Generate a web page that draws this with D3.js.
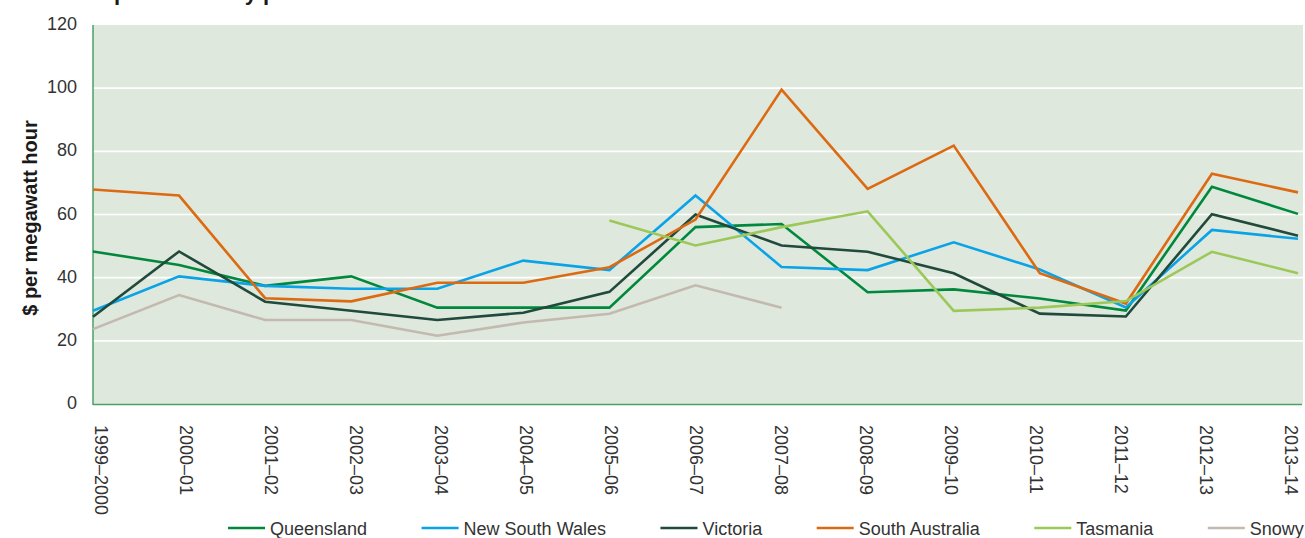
<!DOCTYPE html>
<html>
<head>
<meta charset="utf-8">
<script src="https://cdn.jsdelivr.net/npm/d3@7"></script>
<style>
  body { margin: 0; background: #fff; }
  text { font-family: "Liberation Sans", Arial, sans-serif; }
</style>
</head>
<body>
<div id="chart"></div>
<script>
// financial years on the x axis
const years = ["1999–2000", "2000–01", "2001–02", "2002–03", "2003–04", "2004–05", "2005–06",
  "2006–07", "2007–08", "2008–09", "2009–10", "2010–11", "2011–12", "2012–13", "2013–14"];

// $ per MWh (null = no data)
const queensland = [48.3, 44, 37.4, 40.4, 30.5, 30.5, 30.5, 56, 57, 35.4, 36.3, 33.4, 29.6, 68.8, 60.2];
const newSouthWales = [29.5, 40.4, 37.4, 36.5, 36.5, 45.4, 42.4, 66, 43.4, 42.4, 51.2, 42.6, 30.6, 55.1, 52.3];
const victoria = [27.6, 48.3, 32.4, 29.5, 26.6, 28.9, 35.5, 60, 50.2, 48.2, 41.4, 28.6, 27.7, 60.1, 53.3];
const southAustralia = [67.9, 66, 33.5, 32.5, 38.4, 38.4, 43.3, 58.4, 99.5, 68.1, 81.8, 41.4, 31.8, 72.9, 67];
const tasmania = [null, null, null, null, null, null, 58.1, 50.2, 56, 61, 29.5, 30.5, 32.6, 48.2, 41.4];
const snowy = [23.7, 34.5, 26.6, 26.6, 21.6, 25.8, 28.6, 37.6, 30.5, null, null, null, null, null, null];

const seriesNames = ["Queensland", "New South Wales", "Victoria", "South Australia", "Tasmania", "Snowy"];
const seriesValues = [queensland, newSouthWales, victoria, southAustralia, tasmania, snowy];
const seriesColors = ["#00883c", "#0aa3e8", "#1f4a3c", "#dc6a12", "#9cc85a", "#c3b9b0"];

const yTicks = [0, 20, 40, 60, 80, 100, 120];

const width = 1305, height = 538;
const plotLeft = 93, plotRight = 1298, plotTop = 25, plotBottom = 404;

const svg = d3.select("#chart").append("svg")
    .attr("width", width)
    .attr("height", height);

// scales
const x = d3.scalePoint().domain(years).range([plotLeft, plotRight]);
// tick labels sit slightly tighter than the data points in the original
const xLabel = d3.scalePoint().domain(years).range([plotLeft + 2, plotRight - 13]);
const y = d3.scaleLinear().domain([0, 120]).range([plotBottom, plotTop]);

// title, cut off at the top edge just like the original
svg.append("text")
    .attr("x", 21)
    .attr("y", -0.5)
    .style("font-size", "22px")
    .style("font-weight", "bold")
    .style("fill", "#1a1a1a")
    .text("Annual spot electricity prices");

// plot background
svg.append("rect")
    .attr("x", plotLeft)
    .attr("y", plotTop)
    .attr("width", 1303 - plotLeft)
    .attr("height", plotBottom - plotTop)
    .style("fill", "#dfe8dc");

// gridlines
svg.append("g")
    .selectAll("line")
    .data(yTicks.filter(d => d > 0 && d < 120))
    .join("line")
    .attr("x1", plotLeft)
    .attr("x2", 1303)
    .attr("y1", d => y(d))
    .attr("y2", d => y(d))
    .style("stroke", "#ffffff")
    .style("stroke-width", 1.6);

// axis lines
svg.append("line")
    .attr("x1", plotLeft).attr("x2", plotLeft)
    .attr("y1", plotTop).attr("y2", plotBottom + 1)
    .style("stroke", "#4aa068")
    .style("stroke-width", 1.5);
svg.append("line")
    .attr("x1", plotLeft).attr("x2", 1302)
    .attr("y1", plotBottom + 0.5).attr("y2", plotBottom + 0.5)
    .style("stroke", "#4aa068")
    .style("stroke-width", 1.5);

// y tick labels
svg.append("g")
    .selectAll("text")
    .data(yTicks)
    .join("text")
    .attr("x", 77)
    .attr("y", d => y(d))
    .attr("dy", "0.28em")
    .attr("text-anchor", "end")
    .style("font-size", "18px")
    .style("fill", "#333")
    .text(d => d);

// y axis title
svg.append("text")
    .attr("transform", "translate(37,218) rotate(-90)")
    .attr("text-anchor", "middle")
    .style("font-size", "20px")
    .style("font-weight", "bold")
    .style("fill", "#1a1a1a")
    .text("$ per megawatt hour");

// x tick labels, rotated to read downwards
svg.append("g")
    .selectAll("text")
    .data(years)
    .join("text")
    .attr("transform", d => "translate(" + xLabel(d) + ",425) rotate(90)")
    .attr("text-anchor", "start")
    .style("font-size", "18px")
    .style("fill", "#333")
    .text(d => d);

// lines
const line = d3.line()
    .defined(d => d.value != null)
    .x(d => x(d.year))
    .y(d => y(d.value));

seriesNames.forEach(function (name, i) {
    const pts = years.map((yr, j) => ({ year: yr, value: seriesValues[i][j] }));
    svg.append("path")
        .datum(pts)
        .attr("d", line)
        .style("fill", "none")
        .style("stroke", seriesColors[i])
        .style("stroke-width", 2.6)
        .style("stroke-linejoin", "miter");
});

// legend, laid out from the text widths
const legend = svg.append("g");
let lx = 228;
seriesNames.forEach(function (name, i) {
    legend.append("line")
        .attr("x1", lx).attr("x2", lx + 37)
        .attr("y1", 528).attr("y2", 528)
        .style("stroke", seriesColors[i])
        .style("stroke-width", 2.6);
    const t = legend.append("text")
        .attr("x", lx + 42)
        .attr("y", 534.5)
        .style("font-size", "18px")
        .style("fill", "#333")
        .text(name);
    lx = lx + 42 + t.node().getComputedTextLength() + 54.5;
});
</script>
</body>
</html>
